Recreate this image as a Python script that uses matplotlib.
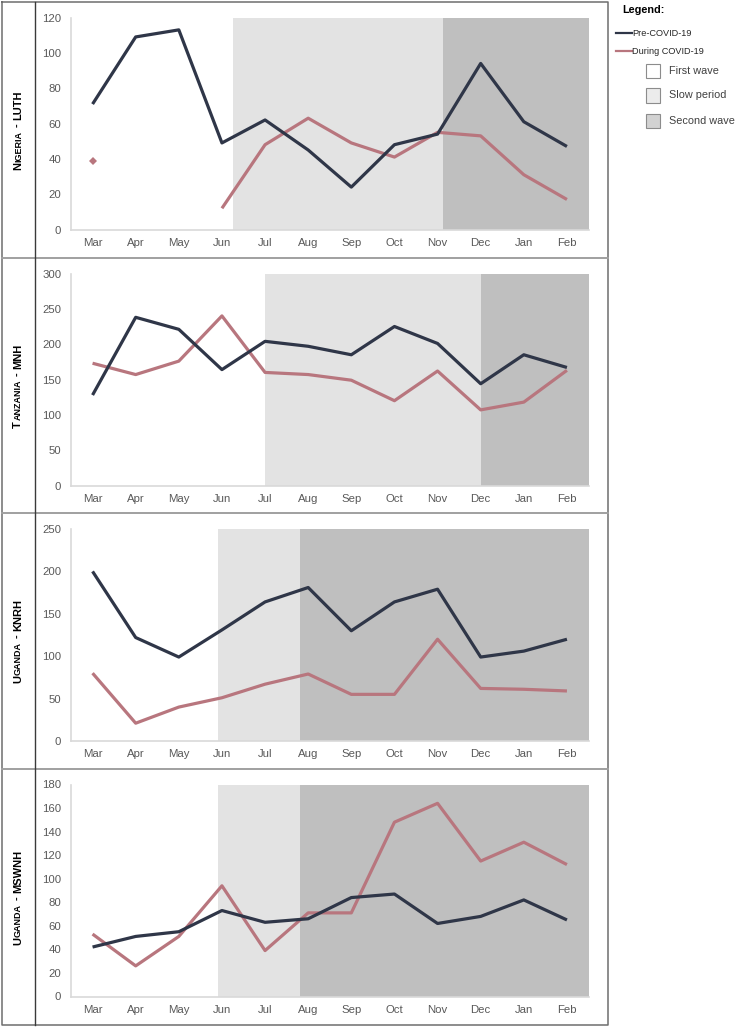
import numpy as np
import matplotlib
matplotlib.use('Agg')
from matplotlib import pyplot as plt
from matplotlib.lines import Line2D
from matplotlib.patches import Rectangle
from matplotlib.transforms import IdentityTransform

plt.rcParams['font.family'] = ['Liberation Sans', 'DejaVu Sans']

nan = np.nan

months = ['Mar', 'Apr', 'May', 'Jun', 'Jul', 'Aug', 'Sep', 'Oct', 'Nov', 'Dec', 'Jan', 'Feb']
sites = ['Nigeria - LUTH', 'Tanzania - MNH', 'Uganda - KNRH', 'Uganda - MSWNH']

pre_luth = [71, 109, 113, 49, 62, 45, 24, 48, 54, 94, 61, 47]
during_luth = [39, nan, nan, 12, 48, 63, 49, 41, 55, 53, 31, 17]
pre_mnh = [128, 238, 221, 164, 204, 197, 185, 225, 201, 144, 185, 167]
during_mnh = [173, 157, 176, 240, 160, 157, 149, 120, 162, 107, 118, 163]
pre_knrh = [200, 122, 99, 131, 164, 181, 130, 164, 179, 99, 106, 120]
during_knrh = [80, 21, 40, 51, 67, 79, 55, 55, 120, 62, 61, 59]
pre_mswnh = [42, 51, 55, 73, 63, 66, 84, 87, 62, 68, 82, 65]
during_mswnh = [53, 26, 51, 94, 39, 71, 71, 148, 164, 115, 131, 112]

pre_series = [pre_luth, pre_mnh, pre_knrh, pre_mswnh]
during_series = [during_luth, during_mnh, during_knrh, during_mswnh]

# start of the slow period and of the second wave, in month units
slow_start = [3.25, 4.0, 2.92, 2.92]
second_start = [8.12, 9.0, 4.81, 4.81]
y_max = [120, 300, 250, 180]
y_step = [20, 50, 50, 20]

PRE = '#2f3648'
DURING = '#b8767e'
SLOW = '#e3e3e3'
SECOND = '#bfbfbf'
TICK = '#595959'

W, H = 736, 1027
fig = plt.figure(figsize=(W / 100, H / 100), dpi=100)


def fx(px):
    return px / W


def fy(py):
    return 1 - py / H


ax_tops = [17.5, 273.5, 529, 784.5]
ax_h = 212
ax_left, ax_right = 71, 588.5

for i in range(4):
    top = ax_tops[i]
    ax = fig.add_axes([fx(ax_left), fy(top + ax_h), fx(ax_right) - fx(ax_left), ax_h / H])
    x = np.arange(len(months))
    ax.axvspan(slow_start[i], second_start[i], color=SLOW, lw=0, zorder=0)
    ax.axvspan(second_start[i], len(months) - 0.5, color=SECOND, lw=0, zorder=0)
    d = np.array(during_series[i], dtype=float)
    ax.plot(x, d, color=DURING, lw=2.3, solid_capstyle='butt', zorder=2)
    # isolated points show as markers
    ok = ~np.isnan(d)
    prev = np.r_[False, ok[:-1]]
    nxt = np.r_[ok[1:], False]
    iso = ok & ~prev & ~nxt
    ax.plot(x[iso], d[iso], 'D', color=DURING, ms=4.5, mew=0, zorder=2)
    ax.plot(x, pre_series[i], color=PRE, lw=2.3, solid_capstyle='butt', zorder=3)
    ax.set_xlim(-0.5, len(months) - 0.5)
    ax.set_ylim(0, y_max[i])
    ax.set_yticks(np.arange(0, y_max[i] + 1, y_step[i]))
    ax.set_xticks(x)
    ax.set_xticklabels(months)
    ax.tick_params(axis='both', length=0, labelsize=8.2, labelcolor=TICK)
    ax.tick_params(axis='y', pad=7)
    ax.tick_params(axis='x', pad=6)
    for s in ['top', 'right']:
        ax.spines[s].set_visible(False)
    for s in ['left', 'bottom']:
        ax.spines[s].set_color('#d9d9d9')
        ax.spines[s].set_linewidth(1.2)
        ax.spines[s].set_zorder(1)

# table frame
frame_right = 608
row_lines = [258, 513, 769]
fig.add_artist(Line2D([fx(2), fx(frame_right), fx(frame_right), fx(2), fx(2)],
                      [fy(2), fy(2), fy(1025), fy(1025), fy(2)],
                      color='#6e6e6e', lw=1.1, transform=fig.transFigure))
for yy in row_lines:
    fig.add_artist(Line2D([fx(2), fx(frame_right)], [fy(yy), fy(yy)],
                          color='#a0a0a0', lw=1.4, transform=fig.transFigure))
fig.add_artist(Line2D([fx(35), fx(35)], [fy(2), fy(1025)],
                      color='#3a3a3a', lw=1.0, transform=fig.transFigure))


# row labels in small caps, written bottom to top
def smallcaps(text, xb, yc, big=8.0, small=6.5):
    renderer = fig.canvas.get_renderer()
    tokens = []
    for ch in text:
        if ch == ' ':
            tokens.append((None, big))
            continue
        size = small if ch.islower() else big
        if tokens and tokens[-1][0] is not None and tokens[-1][1] == size:
            tokens[-1] = (tokens[-1][0] + ch.upper(), size)
        else:
            tokens.append((ch.upper(), size))
    objs, lens = [], []
    for s, sz in tokens:
        if s is None:
            objs.append(None)
            lens.append(0.278 * sz * 100 / 72)
            continue
        t = fig.text(xb, 0, s, rotation=90, rotation_mode='anchor', ha='left',
                     va='baseline', fontsize=sz, fontweight='bold', color='black',
                     transform=IdentityTransform())
        objs.append(t)
        lens.append(t.get_window_extent(renderer).height + 0.5)
    y = yc - sum(lens) / 2
    for t, l in zip(objs, lens):
        if t is not None:
            t.set_position((xb, y))
        y += l


row_centers = [130, 385.5, 641, 897]
for name, yc in zip(sites, row_centers):
    smallcaps(name, 21, H - yc)

# legend
fig.text(fx(622), fy(10), 'Legend:', fontsize=7.8, fontweight='bold',
         va='center', ha='left', color='black')
legend_lines = [('Pre-COVID-19', PRE, 33), ('During COVID-19', DURING, 51)]
for label, col, yy in legend_lines:
    fig.add_artist(Line2D([fx(616), fx(632)], [fy(yy), fy(yy)], color=col, lw=1.6,
                          transform=fig.transFigure))
    fig.text(fx(632), fy(yy), label, fontsize=6.6, va='center', ha='left', color='#262626')
legend_boxes = [('First wave', 'white', 71), ('Slow period', '#ececec', 95.5),
                ('Second wave', '#d2d2d2', 120.5)]
for label, col, yy in legend_boxes:
    fig.add_artist(Rectangle((fx(646), fy(yy + 7)), fx(660) - fx(646), 14 / H,
                             facecolor=col, edgecolor='#8c8c8c', lw=0.8,
                             transform=fig.transFigure))
    fig.text(fx(669), fy(yy), label, fontsize=7.8, va='center', ha='left', color='#404040')

fig.savefig('out.png', dpi=100)
